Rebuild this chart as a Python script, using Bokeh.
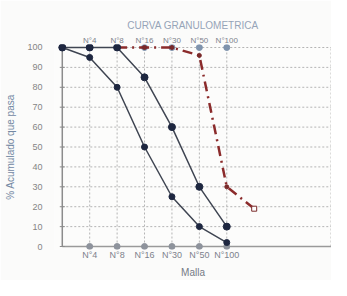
from bokeh.plotting import figure
from bokeh.models import LinearAxis, FixedTicker, Title
from bokeh.embed import file_html
from bokeh.resources import INLINE

# ---- data ----
categorias = ["N°4", "N°8", "N°16", "N°30", "N°50", "N°100"]
pos_cat = [1, 2, 3, 4, 5, 6]
x_serie = [0, 1, 2, 3, 4, 5, 6]
pasa_a = [100, 100, 100, 85, 60, 30, 10]
pasa_b = [100, 95, 80, 50, 25, 10, 2]
x_roja = [2, 3, 4, 5, 6, 7]
pasa_roja = [100, 100, 100, 96, 30, 19]
y_ticks = [0, 10, 20, 30, 40, 50, 60, 70, 80, 90, 100]

X_MAX = 9.8
FONT = "Liberation Sans"

p = figure(frame_width=277, frame_height=205, x_range=(-0.284, 9.82), y_range=(-1.5, 101.5),
           output_backend="svg", toolbar_location=None,
           min_border_left=54, min_border_right=0, min_border_top=44, min_border_bottom=31)
p.background_fill_color = "#fcfcfb"
p.border_fill_color = "#fbfbfa"
p.outline_line_color = None
p.xgrid.visible = False
p.ygrid.visible = False

# y axis
p.yaxis.ticker = FixedTicker(ticks=y_ticks)
p.yaxis.axis_line_color = None
p.yaxis.major_tick_line_color = None
p.yaxis.minor_tick_line_color = None
p.yaxis.major_label_standoff = 6
p.yaxis.major_label_text_font = FONT
p.yaxis.major_label_text_font_size = "9px"
p.yaxis.major_label_text_color = "#858585"
p.yaxis.axis_label = "% Acumulado que pasa"
p.yaxis.axis_label_text_font = FONT
p.yaxis.axis_label_text_font_size = "10px"
p.yaxis.axis_label_text_font_style = "normal"
p.yaxis.axis_label_text_color = "#7388a3"
p.yaxis.axis_label_standoff = 8

# bottom x axis
overrides = {c: lab for c, lab in zip(pos_cat, categorias)}
p.xaxis.ticker = FixedTicker(ticks=pos_cat)
p.xaxis.major_label_overrides = overrides
p.xaxis.axis_line_color = None
p.xaxis.major_tick_line_color = None
p.xaxis.minor_tick_line_color = None
p.xaxis.major_tick_out = 0
p.xaxis.major_tick_in = 0
p.xaxis.major_label_standoff = 0
p.xaxis.major_label_text_font = FONT
p.xaxis.major_label_text_font_size = "9px"
p.xaxis.major_label_text_color = "#7d828c"

# top x axis
top = LinearAxis(ticker=FixedTicker(ticks=pos_cat), major_label_overrides=overrides,
                 axis_line_color=None, major_tick_line_color=None, minor_tick_line_color=None,
                 major_tick_out=0, major_tick_in=0,
                 major_label_standoff=0, major_label_text_font=FONT,
                 major_label_text_font_size="8px", major_label_text_color="#7d828c")
p.add_layout(top, "above")

# grid (dotted)
gy = y_ticks[1:]
p.segment(x0=[0] * len(gy), y0=gy, x1=[X_MAX] * len(gy), y1=gy,
          line_color="#b4b4b4", line_dash="2 2", line_width=1)
p.segment(x0=pos_cat, y0=[0] * len(pos_cat), x1=pos_cat, y1=[100] * len(pos_cat),
          line_color="#b4b4b4", line_dash="2 2", line_width=1)
p.segment(x0=[X_MAX], y0=[0], x1=[X_MAX], y1=[100],
          line_color="#c0c0c0", line_dash="2 2", line_width=1)

# axis lines
p.segment(x0=[0], y0=[0], x1=[0], y1=[100], line_color="#8c8c8c", line_width=1.5)
p.segment(x0=[0], y0=[0], x1=[X_MAX], y1=[0], line_color="#9a9a9a", line_width=1.5)
p.scatter([0] * len(y_ticks), y_ticks, marker="dash", size=5, line_color="#8c8c8c")

# axis category markers
p.scatter(pos_cat, [0] * len(pos_cat), marker="circle", size=6,
          fill_color="#8e939c", line_color="#8e939c")
p.scatter(pos_cat, [100] * len(pos_cat), marker="circle", size=6,
          fill_color="#7f93ad", line_color="#7f93ad")

# series
p.line(x_roja, pasa_roja, line_color="#8b2b2b", line_width=2.5, line_dash="10 5 2 5")
p.scatter(x_roja[:-1], pasa_roja[:-1], marker="circle", size=4,
          fill_color="#7a2a2a", line_color="#7a2a2a")
p.scatter(x_roja[-1:], pasa_roja[-1:], marker="square", size=5,
          fill_color="white", line_color="#7a2a2a")

p.line(x_serie, pasa_a, line_color="#3f4552", line_width=1.5)
p.scatter(x_serie, pasa_a, marker="circle", size=7, fill_color="#1e2740", line_color="#1e2740")
p.line(x_serie, pasa_b, line_color="#3f4552", line_width=1.5)
p.scatter(x_serie, pasa_b, marker="circle", size=6, fill_color="#1e2740", line_color="#1e2740")

# title and x label
p.title.text = "CURVA GRANULOMETRICA"
p.title.align = "center"
p.title.text_font = FONT
p.title.text_font_size = "10px"
p.title.text_font_style = "normal"
p.title.text_color = "#96a4b8"
p.title.standoff = 4

p.add_layout(Title(text="Malla", align="center", offset=-18, text_font=FONT,
                   text_font_size="10px", text_font_style="normal",
                   text_color="#747a85", standoff=5), "below")

open("out.html", "w").write(file_html(p, INLINE))
